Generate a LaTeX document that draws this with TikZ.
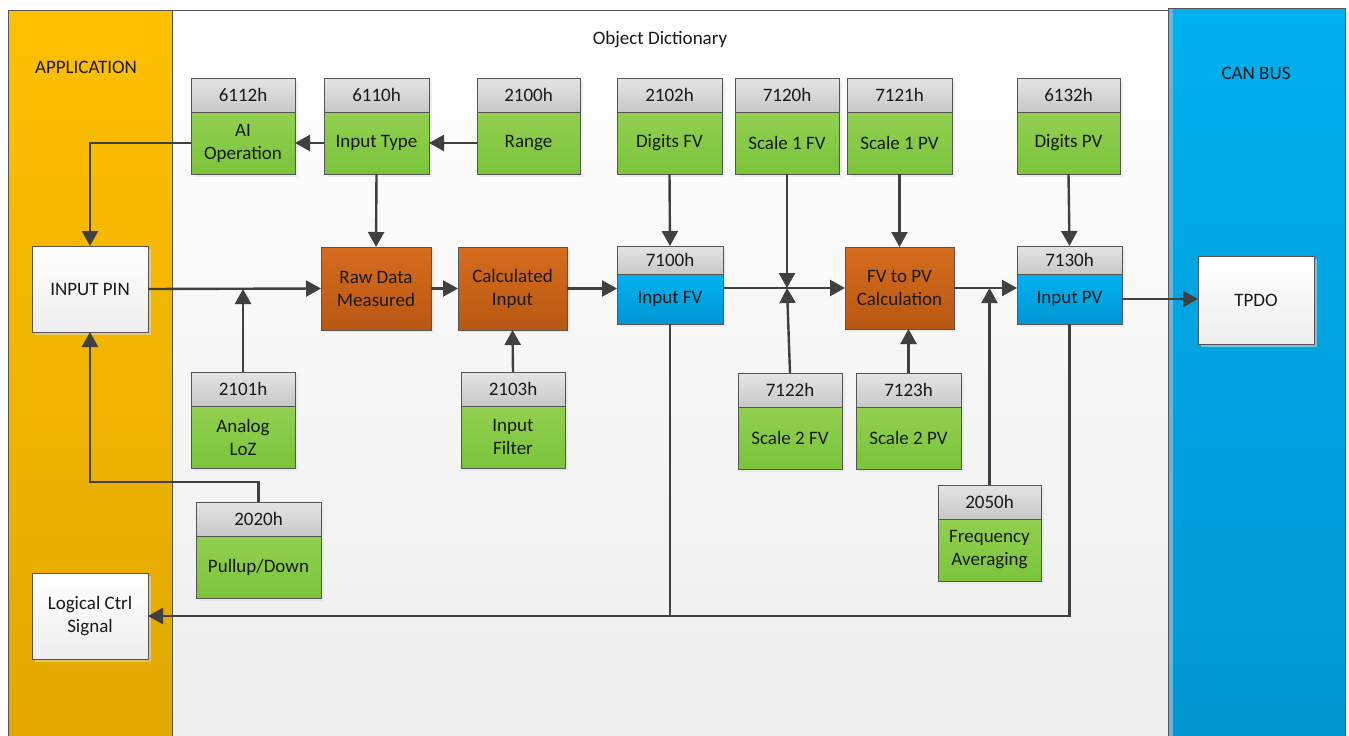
\documentclass[tikz,border=0pt]{standalone}
\usepackage{fontspec}
\setmainfont{Carlito}
\usetikzlibrary{positioning,arrows.meta,shadows}

\definecolor{appTop}{RGB}{255,192,0}
\definecolor{appBot}{RGB}{226,168,0}
\definecolor{canTop}{RGB}{0,176,240}
\definecolor{canBot}{RGB}{0,150,208}
\definecolor{canEdge}{RGB}{96,184,226}
\definecolor{grnTop}{RGB}{146,208,80}
\definecolor{grnBot}{RGB}{122,196,58}
\definecolor{orgTop}{RGB}{214,108,30}
\definecolor{orgBot}{RGB}{184,88,18}
\definecolor{bluTop}{RGB}{0,178,240}
\definecolor{bluBot}{RGB}{0,150,210}
\definecolor{idTop}{RGB}{228,228,228}
\definecolor{idBot}{RGB}{200,200,200}
\definecolor{odBot}{RGB}{238,238,238}
\definecolor{lineGray}{RGB}{64,64,64}
\definecolor{edgeGray}{RGB}{85,85,85}

\tikzset{
  box/.style={draw=edgeGray, line width=1pt, inner sep=2pt, outer sep=0pt,
    align=center, text=black!90, font=\fontsize{19}{23}\selectfont,
    drop shadow={shadow xshift=3pt, shadow yshift=-3pt, fill=black!12}},
  idbox/.style={box, top color=idTop, bottom color=idBot},
  grnbox/.style={box, top color=grnTop, bottom color=grnBot},
  orgbox/.style={box, top color=orgTop, bottom color=orgBot},
  blubox/.style={box, top color=bluTop, bottom color=bluBot},
  whtbox/.style={box, top color=white, bottom color=odBot},
  title/.style={text=black!90, font=\fontsize{19}{23}\selectfont},
  wire/.style={draw=lineGray, line width=2.4pt},
  flow/.style={wire, -{Triangle[width=16pt,length=15pt]}}
}

\begin{document}
\begin{tikzpicture}[x=1pt, y=-1pt]
    \useasboundingbox (0,0) rectangle (1349,736);
    % panels
    \fill[top color=appTop, bottom color=appBot] (8,10) rectangle (172,736);
    \draw[edgeGray, thin] (8,736) -- (8,10) -- (172,10);
    \fill[top color=white, bottom color=odBot] (172,10) rectangle (1168,736);
    \draw[edgeGray, thin] (172,736) -- (172,10) -- (1168,10);
    \fill[top color=canTop, bottom color=canBot] (1168,8) rectangle (1345,736);
    \fill[canEdge] (1168,8) rectangle (1173,736);
    \draw[edgeGray, thin] (1168,736) -- (1168,8) -- (1345,8) -- (1345,736);
    \node[title] (apptitle) at (86,67) {APPLICATION};
    \node[title] (odtitle) at (660,40) {Object Dictionary};
    \node[title] (cantitle) at (1256,73) {CAN BUS};

    % green objects
    \foreach \n/\x/\y/\w/\i/\t in {
        aiop/191/78/104/6112h/{AI\\Operation},
        typ/324/78/105/6110h/{Input Type},
        rng/477/78/103/2100h/{Range},
        dfv/617/78/105/2102h/{Digits FV},
        sfva/735/78/104/7120h/{Scale 1 FV},
        spva/847/78/105/7121h/{Scale 1 PV},
        dpv/1017/78/103/6132h/{Digits PV},
        loz/191/372/104/2101h/{Analog\\LoZ},
        filt/461/372/104/2103h/{Input\\Filter},
        sfvb/738/373/104/7122h/{Scale 2 FV},
        spvb/856/373/105/7123h/{Scale 2 PV},
        pull/196/502/125/2020h/{Pullup/Down},
        favg/938/485/103/2050h/{Frequency\\Averaging}}
    {
        \node[idbox, minimum width=\w pt, minimum height=34pt, anchor=north west] (\n-id) at (\x,\y) {\i};
        \node[grnbox, minimum width=\w pt, minimum height=62pt, below=0pt of \n-id] (\n) {\t};
    }

    % blue objects
    \node[idbox, minimum width=106pt, minimum height=28pt, anchor=north west] (fv-id) at (617,246) {7100h};
    \node[blubox, minimum width=106pt, minimum height=50pt, below=0pt of fv-id] (fv) {Input FV};
    \node[idbox, minimum width=105pt, minimum height=28pt, anchor=north west] (pv-id) at (1017,246) {7130h};
    \node[blubox, minimum width=105pt, minimum height=50pt, below=0pt of pv-id] (pv) {Input PV};

    % calculations
    \node[orgbox, minimum width=110pt, minimum height=83pt, anchor=north west] (raw) at (321,247) {Raw Data\\Measured};
    \node[orgbox, minimum width=109pt, minimum height=83pt, anchor=north west] (calc) at (458,247) {Calculated\\Input};
    \node[orgbox, minimum width=109pt, minimum height=82pt, anchor=north west] (fvpv) at (845,247) {FV to PV\\Calculation};

    % application / bus
    \node[whtbox, minimum width=116pt, minimum height=86pt, anchor=north west] (inpin) at (32,246) {INPUT PIN};
    \node[whtbox, minimum width=116pt, minimum height=86pt, anchor=north west] (logic) at (32,573) {Logical Ctrl\\Signal};
    \node[whtbox, minimum width=116pt, minimum height=88pt, anchor=north west] (tpdo) at (1198,256) {TPDO};

    % connectors
    \draw[flow] (rng.west) -- (typ.east);
    \draw[flow] (typ.west) -- (aiop.east);
    \draw[flow] (aiop.west) -| (inpin.north);
    \draw[flow] (typ.south) -- (raw.north);
    \draw[flow] (inpin.east) -- (raw.west);
    \draw[flow] (loz-id.north) -- (loz-id.north |- inpin.east);
    \draw[flow] (raw.east) -- (calc.west);
    \draw[flow] (filt-id.north) -- (calc.south);
    \draw[flow] (calc.east) -- (calc.east -| fv.west);
    \draw[flow] (dfv.south) -- (fv-id.north);
    \draw[flow] (fvpv.west -| fv.east) -- (fvpv.west);
    \coordinate (jfv) at (sfva.south |- fvpv.west);
    \draw[flow] (sfva.south) -- (jfv);
    \draw[flow] (sfvb-id.north) -- (jfv);
    \draw[flow] (spva.south) -- (fvpv.north);
    \draw[flow] (spvb-id.north) -- (spvb-id.north |- fvpv.south);
    \draw[flow] (fvpv.east) -- (fvpv.east -| pv.west);
    \draw[flow] (favg-id.north) -- (favg-id.north |- fvpv.east);
    \draw[flow] (dpv.south) -- (pv-id.north);
    \draw[flow] (pv.east) -- (pv.east -| tpdo.west);
    \draw[wire] (fv.south) -- (fv.south |- logic.east);
    \draw[flow] (pv.south) |- (logic.east);
    \draw[flow] (pull-id.north) -- ++(0,-20) -| (inpin.south);
\end{tikzpicture}
\end{document}
